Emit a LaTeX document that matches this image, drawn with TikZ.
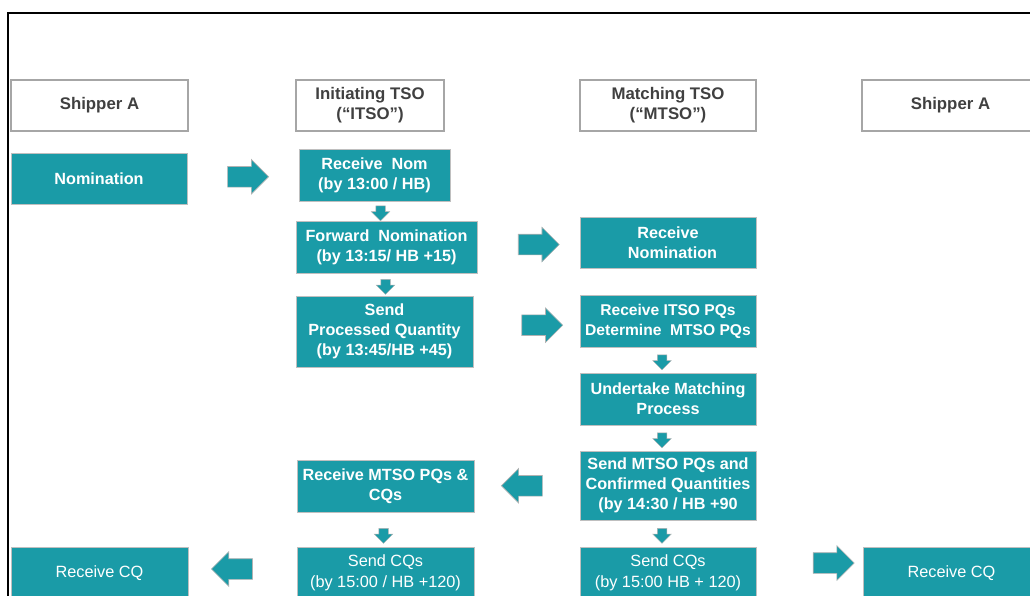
\documentclass[tikz,border=0pt]{standalone}
\usepackage{fontspec}
\setmainfont{Liberation Sans}
\usetikzlibrary{shapes.arrows,calc}

\definecolor{nomteal}{HTML}{1A9BA7}
\definecolor{hdrgray}{HTML}{A6A6A6}
\definecolor{hdrtext}{HTML}{404040}

\tikzset{
  hdr/.style={draw=hdrgray, line width=1.2pt, fill=white, text=hdrtext,
    font=\bfseries\fontsize{16.8}{20}\selectfont, align=center,
    inner sep=0pt, minimum height=51pt},
  tealbox/.style={draw=gray!50, line width=1pt, fill=nomteal, text=white,
    font=\bfseries\fontsize{16.2}{20}\selectfont, align=center, inner sep=0pt},
  plainbox/.style={tealbox, font=\fontsize{16.3}{21}\selectfont},
  rarrow/.style={single arrow, draw=gray!60, fill=nomteal, line width=0.6pt,
    single arrow head extend=7pt, inner sep=10pt, minimum height=41pt},
  larrow/.style={rarrow, shape border rotate=180},
  darrow/.style={single arrow, draw=gray!60, fill=nomteal, line width=0.5pt,
    single arrow head extend=4.5pt, inner sep=4.5pt, minimum height=15pt,
    shape border rotate=270}
}

\begin{document}
\begin{tikzpicture}[x=1pt,y=-1pt]
    \clip (0,0) rectangle (1030,595);
    \draw [line width=2pt] (8,600) -- (8,13) -- (1035,13);
    % column heads
    \node [hdr, minimum width=177pt] (shipa) at (99.5,105.5) {Shipper A};
    \node [hdr, minimum width=148pt] (itso) at (370,105.5) {Initiating TSO\\(“ITSO”)};
    \node [hdr, minimum width=176pt] (mtso) at (668,105.5) {Matching TSO\\(“MTSO”)};
    \node [hdr, minimum width=177pt] (shipb) at (950.5,105.5) {Shipper A};
    % steps
    \node [tealbox, minimum width=176pt, minimum height=51pt] (nom) at (99,178.5) {Nomination};
    \node [tealbox, minimum width=151pt, minimum height=52pt] (rnom) at (374.5,175) {Receive\ \ Nom\\(by 13:00 / HB)};
    \node [tealbox, minimum width=181pt, minimum height=52pt] (fwd) at (386.5,247) {Forward\ \ Nomination\\(by 13:15/ HB +15)};
    \node [tealbox, minimum width=177pt, minimum height=71pt] (sendpq) at (384.5,331.5) {Send\\Processed Quantity\\(by 13:45/HB +45)};
    \node [tealbox, minimum width=176pt, minimum height=51pt] (rnomm) at (668,242.5) {Receive\\\ \ Nomination};
    \node [tealbox, minimum width=176pt, minimum height=52pt, font=\bfseries\fontsize{15.6}{20}\selectfont] (ritso) at (668,321) {Receive ITSO PQs\\Determine\ \ MTSO PQs};
    \node [tealbox, minimum width=176pt, minimum height=52pt] (match) at (668,399) {Undertake Matching\\Process};
    \node [tealbox, minimum width=176pt, minimum height=69pt] (smtso) at (668,485.5) {Send MTSO PQs and\\Confirmed Quantities\\(by 14:30 / HB +90};
    \node [tealbox, minimum width=177pt, minimum height=52pt] (rmtso) at (385.5,486) {Receive MTSO PQs \&\\CQs};
    \node [plainbox, minimum width=177pt, minimum height=52pt] (scqi) at (385.5,573) {Send CQs\\(by 15:00 / HB +120)};
    \node [plainbox, minimum width=176pt, minimum height=52pt] (scqm) at (668,573) {Send CQs\\(by 15:00 HB + 120)};
    \node [plainbox, minimum width=177pt, minimum height=52pt] (rcqa) at (99.5,573) {Receive CQ};
    \node [plainbox, minimum width=177pt, minimum height=52pt] (rcqb) at (951.5,573) {Receive CQ};
    % block arrows
    \node [rarrow] (a1) at ($(nom.east)!0.5!(rnom.west)$) {};
    \node [rarrow] (a2) at ($(fwd.east)!0.55!(rnomm.west)$) {};
    \node [rarrow] (a3) at ($(sendpq.east)!0.6!(ritso.west)$) {};
    \node [larrow] (a4) at ($(smtso.west)!0.5!(rmtso.east)$) {};
    \node [larrow, yshift=4pt] (a5) at ($(scqi.west)!0.55!(rcqa.east)$) {};
    \node [rarrow, yshift=10pt] (a6) at ($(scqm.east)!0.68!(rcqb.west)$) {};
    \node [darrow] (d1) at ($(rnom.south)!0.5!(fwd.north)$) {};
    \node [darrow] (d2) at ($(fwd.south)!0.5!(sendpq.north)$) {};
    \node [darrow, xshift=-6pt] (d3) at ($(ritso.south)!0.5!(match.north)$) {};
    \node [darrow, xshift=-6pt] (d4) at ($(match.south)!0.5!(smtso.north)$) {};
    \node [darrow, xshift=-6pt] (d5) at ($(smtso.south)!0.5!(scqm.north)$) {};
    \node [darrow, xshift=-2pt, yshift=-4pt] (d6) at ($(rmtso.south)!0.5!(scqi.north)$) {};
  \end{tikzpicture}
\end{document}
